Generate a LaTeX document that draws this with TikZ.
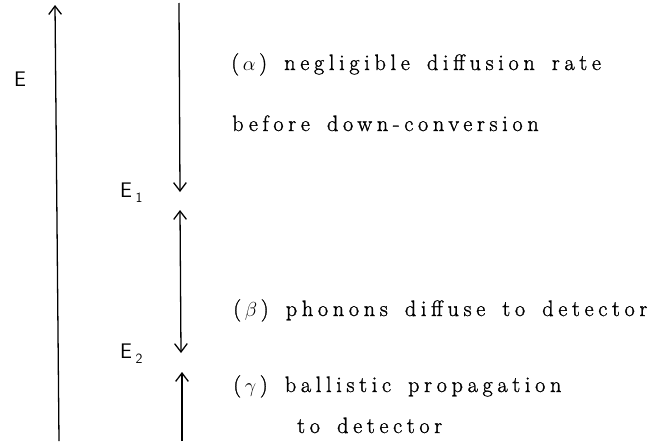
\documentclass[tikz,border=0pt]{standalone}
\usepackage{fontspec}
\usepackage{tikz}
\usetikzlibrary{arrows.meta,positioning}
\newfontfamily\spacedfont{Latin Modern Roman}[LetterSpace=21,WordSpace=1.5,FakeBold=1.2]

\begin{document}
\begin{tikzpicture}[
    x=0.03cm, y=-0.03cm,
    energy/.style={font=\sffamily\fontsize{18}{20}\selectfont, anchor=base west, inner sep=0pt},
    regime/.style={font=\spacedfont\fontsize{19}{22}\selectfont, anchor=base west, inner sep=0pt},
    level/.style={line width=1.1pt, -{Straight Barb[length=0.25cm,width=0.38cm,line width=1.1pt]}},
    bothlevel/.style={line width=1.1pt, {Straight Barb[length=0.25cm,width=0.38cm,line width=1.1pt]}-{Straight Barb[length=0.25cm,width=0.38cm,line width=1.1pt]}}
]
    \useasboundingbox (0,0) rectangle (668,444);

    % Energy axis
    \coordinate (axisbot) at (59,441);
    \coordinate (axistop) at (55,5);
    \node[energy] (E) at (14,86) {E};
    \draw[level] (axisbot) -- (axistop);

    % Energy scale on the right
    \coordinate (top) at (179,3);
    \coordinate (down1) at (180,192);
    \coordinate (up2) at (180,210);
    \coordinate (down2) at (181,353);
    \coordinate (up3) at (182,372);
    \coordinate (bot) at (182,441);
    \node[energy] (E1) at (120,197) {E\kern3pt\raisebox{-5pt}{\fontsize{12}{12}\selectfont 1}};
    \node[energy] (E2) at (120,358) {E\kern3pt\raisebox{-5pt}{\fontsize{12}{12}\selectfont 2}};
    \draw[level] (top) -- (down1);
    \draw[bothlevel] (up2) -- (down2);
    \draw[level] (bot) -- (up3);

    % Regimes
    \node[regime] (alpha) at (231,70) {(\,$\alpha$\,) negligible diffusion rate};
    \node[regime] (alphab) at (232,131) {before down-conversion};
    \node[regime] (beta) at (233,316) {(\,$\beta$\,) phonons diffuse to detector};
    \node[regime] (gamma) at (233,392) {(\,$\gamma$\,) ballistic propagation};
    \node[regime] (gammab) at (297,433) {to detector};
\end{tikzpicture}
\end{document}
